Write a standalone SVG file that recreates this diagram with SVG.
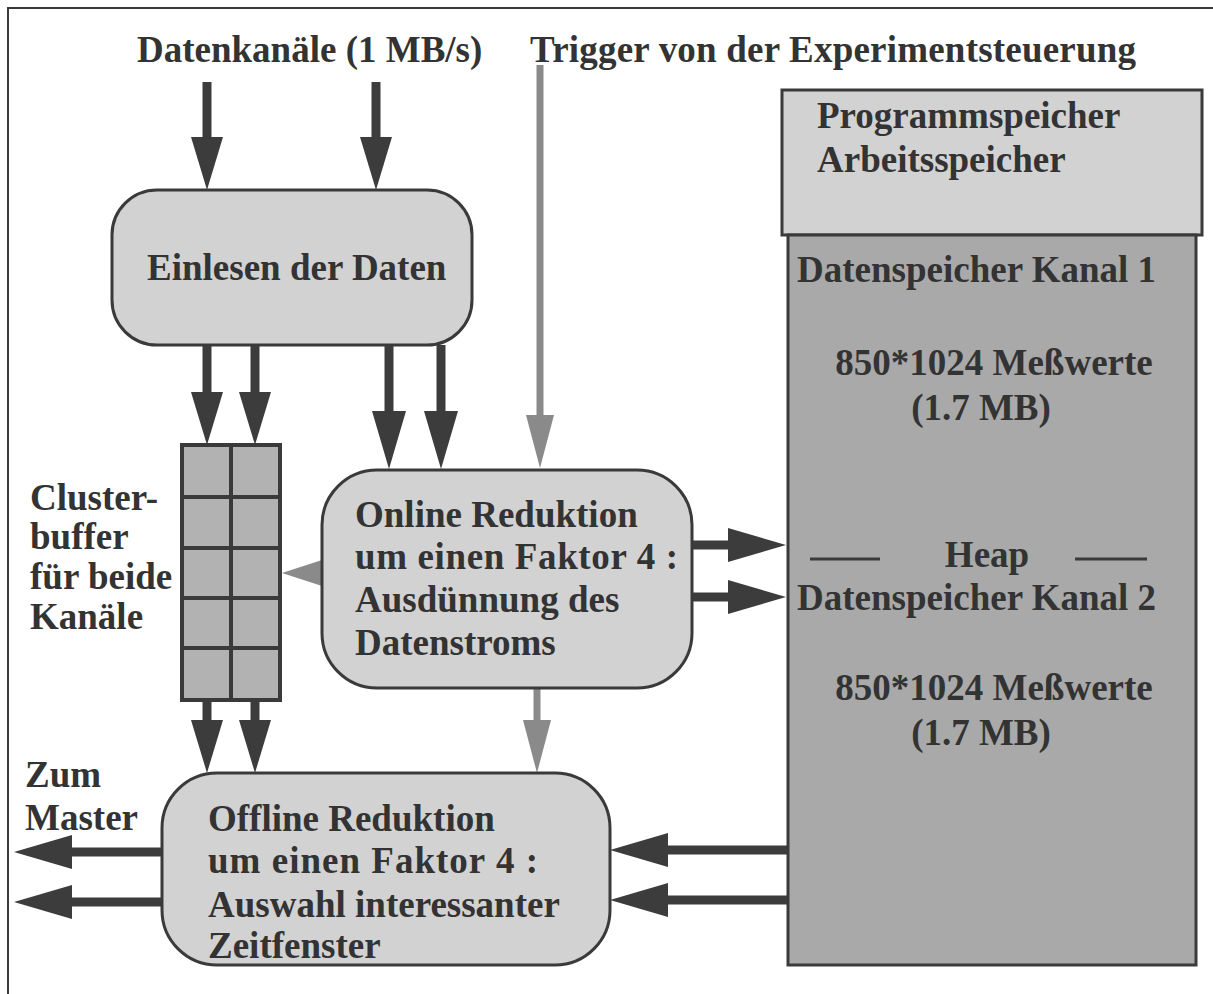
<svg xmlns="http://www.w3.org/2000/svg" width="1213" height="994" viewBox="0 0 1213 994">
<style>
  text { font-family: "Liberation Serif", "Times New Roman", serif; font-weight: bold; font-size: 37px; fill: #333; }
  .box { fill: #d2d2d2; stroke: #3a3a3a; stroke-width: 3; }
  .dark { fill: #a9a9a9; stroke: #3a3a3a; stroke-width: 3; }
  .cell { fill: #b2b2b2; stroke: #3a3a3a; stroke-width: 4; }
  .shaft { stroke: #3c3c3c; stroke-width: 9; fill: none; }
  .hshaft { stroke: #8a8a8a; stroke-width: 7; fill: none; }
  .rule { stroke: #3a3a3a; stroke-width: 3; }
</style>
<defs>
  <marker id="ah" markerUnits="userSpaceOnUse" markerWidth="60" markerHeight="34" refX="0" refY="17" orient="auto" overflow="visible">
    <path d="M0,0 L58,17 L0,34 Z" fill="#3c3c3c"/>
  </marker>
  <marker id="ahs" markerUnits="userSpaceOnUse" markerWidth="54" markerHeight="32" refX="0" refY="16" orient="auto" overflow="visible">
    <path d="M0,0 L53,16 L0,32 Z" fill="#3c3c3c"/>
  </marker>
  <marker id="hh" markerUnits="userSpaceOnUse" markerWidth="54" markerHeight="28" refX="0" refY="14" orient="auto" overflow="visible">
    <path d="M0,0 L53,14 L0,28 Z" fill="#8a8a8a"/>
  </marker>
  <marker id="hhs" markerUnits="userSpaceOnUse" markerWidth="40" markerHeight="26" refX="0" refY="13" orient="auto" overflow="visible">
    <path d="M0,0 L40,13 L0,26 Z" fill="#8a8a8a"/>
  </marker>
</defs>

<rect x="8" y="8" width="1215" height="1000" fill="#fff" stroke="#3a3a3a" stroke-width="2"/>

<g id="titles">
  <text x="137" y="62">Datenkanäle (1 MB/s)</text>
  <text x="530" y="62" textLength="606">Trigger von der Experimentsteuerung</text>
</g>

<g id="connectors">
  <line class="shaft" x1="207" y1="82" x2="207" y2="137" marker-end="url(#ahs)"/>
  <line class="shaft" x1="376" y1="82" x2="376" y2="137" marker-end="url(#ahs)"/>
  <line class="hshaft" x1="540" y1="65" x2="540" y2="415" marker-end="url(#hh)"/>
  <line class="shaft" x1="207" y1="345" x2="207" y2="392" marker-end="url(#ahs)"/>
  <line class="shaft" x1="255" y1="345" x2="255" y2="392" marker-end="url(#ahs)"/>
  <line class="shaft" x1="389" y1="345" x2="389" y2="411" marker-end="url(#ah)"/>
  <line class="shaft" x1="441" y1="345" x2="441" y2="411" marker-end="url(#ah)"/>
  <line class="hshaft" x1="324" y1="573" x2="322" y2="573" marker-end="url(#hhs)"/>
  <line class="shaft" x1="690" y1="545" x2="728" y2="545" marker-end="url(#ah)"/>
  <line class="shaft" x1="690" y1="597" x2="728" y2="597" marker-end="url(#ah)"/>
  <line class="hshaft" x1="537" y1="688" x2="537" y2="720" marker-end="url(#hh)"/>
  <line class="shaft" x1="207" y1="700" x2="207" y2="720" marker-end="url(#ahs)"/>
  <line class="shaft" x1="255" y1="700" x2="255" y2="720" marker-end="url(#ahs)"/>
  <line class="shaft" x1="788" y1="850" x2="668" y2="850" marker-end="url(#ah)"/>
  <line class="shaft" x1="788" y1="900" x2="668" y2="900" marker-end="url(#ah)"/>
  <line class="shaft" x1="163" y1="852" x2="72" y2="852" marker-end="url(#ah)"/>
  <line class="shaft" x1="163" y1="902" x2="72" y2="902" marker-end="url(#ah)"/>
</g>

<g id="einlesen">
  <rect class="box" x="112" y="190" width="360" height="155" rx="45"/>
  <text x="147" y="280">Einlesen der Daten</text>
</g>

<g id="programmspeicher">
  <rect class="box" x="782" y="90" width="420" height="145"/>
  <text x="817" y="128">Programmspeicher</text>
  <text x="817" y="172">Arbeitsspeicher</text>
</g>

<g id="datenspeicher">
  <rect class="dark" x="788" y="235" width="408" height="730"/>
  <text x="797" y="282">Datenspeicher Kanal 1</text>
  <text x="994" y="375" text-anchor="middle">850*1024 Meßwerte</text>
  <text x="981" y="420" text-anchor="middle">(1.7 MB)</text>
  <line class="rule" x1="810" y1="559" x2="880" y2="559"/>
  <line class="rule" x1="1075" y1="559" x2="1147" y2="559"/>
  <text x="987" y="567" text-anchor="middle">Heap</text>
  <text x="797" y="610">Datenspeicher Kanal 2</text>
  <text x="994" y="700" text-anchor="middle">850*1024 Meßwerte</text>
  <text x="981" y="745" text-anchor="middle">(1.7 MB)</text>
</g>

<g id="clusterbuffer">
  <rect class="cell" x="182" y="445" width="98" height="255"/>
  <line class="cell" x1="231" y1="445" x2="231" y2="700"/>
  <line class="cell" x1="182" y1="497" x2="280" y2="497"/>
  <line class="cell" x1="182" y1="548" x2="280" y2="548"/>
  <line class="cell" x1="182" y1="598" x2="280" y2="598"/>
  <line class="cell" x1="182" y1="648" x2="280" y2="648"/>
  <text x="30" y="510">Cluster-</text>
  <text x="30" y="549">buffer</text>
  <text x="30" y="589">für beide</text>
  <text x="30" y="629">Kanäle</text>
</g>

<g id="online">
  <rect class="box" x="322" y="470" width="370" height="218" rx="55"/>
  <text x="355" y="527">Online Reduktion</text>
  <text x="355" y="569" textLength="323">um einen Faktor 4 :</text>
  <text x="355" y="612">Ausdünnung des</text>
  <text x="355" y="655">Datenstroms</text>
</g>

<g id="offline">
  <rect class="box" x="162" y="773" width="448" height="192" rx="55"/>
  <text x="208" y="831">Offline Reduktion</text>
  <text x="208" y="873" textLength="330">um einen Faktor 4 :</text>
  <text x="208" y="917">Auswahl interessanter</text>
  <text x="208" y="958">Zeitfenster</text>
</g>

<g id="master">
  <text x="25" y="787">Zum</text>
  <text x="25" y="830">Master</text>
</g>
</svg>
